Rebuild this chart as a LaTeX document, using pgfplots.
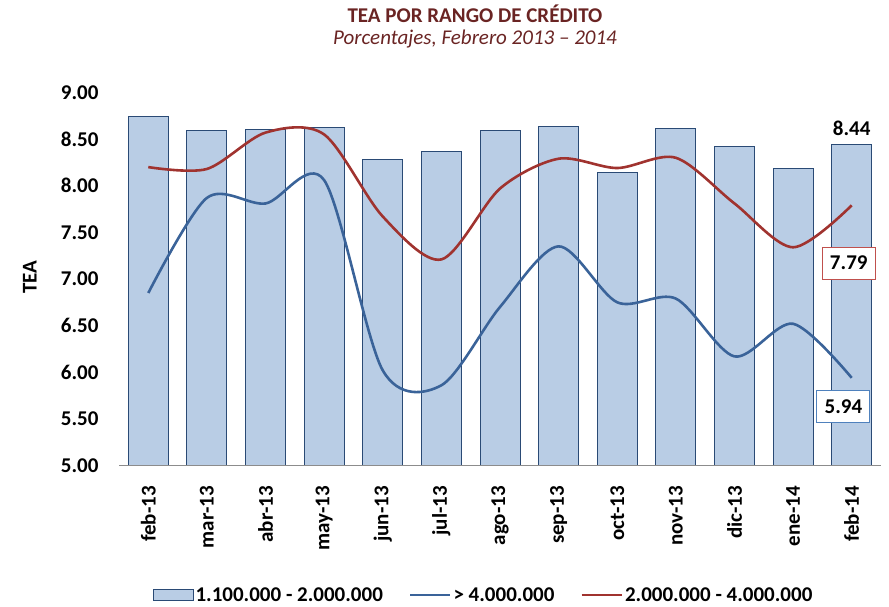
\documentclass[border=0pt]{standalone}
\usepackage{pgfplots}
\pgfplotsset{compat=1.18}
\usepackage{fontspec}
\setmainfont{Carlito}

\definecolor{titlered}{HTML}{6A2423}
\definecolor{barfill}{HTML}{B9CDE5}
\definecolor{bardraw}{HTML}{2A4A75}
\definecolor{blueline}{HTML}{3A6399}
\definecolor{redline}{HTML}{A0332F}
\definecolor{axisgray}{HTML}{8C8C8C}
\definecolor{boxred}{HTML}{C0504D}
\definecolor{boxblue}{HTML}{4F81BD}

\newcommand{\chfont}{\fontsize{21}{25}\selectfont}

\begin{document}
\begin{tikzpicture}[x=1pt,y=1pt]
\useasboundingbox (0,0) rectangle (889,606);

\node[font=\chfont\bfseries, text=titlered] at (475,592) {TEA POR RANGO DE CRÉDITO};
\node[font=\chfont\itshape, text=titlered] at (475,567) {Porcentajes, Febrero 2013 – 2014};

\begin{axis}[
    at={(119pt,140.5pt)}, anchor=south west,
    scale only axis,
    width=762pt, height=373pt,
    xmin=-0.5, xmax=12.5,
    ymin=5, ymax=9,
    ytick={5,5.5,...,9},
    xtick={0,...,12},
    xticklabels={feb-13,mar-13,abr-13,may-13,jun-13,jul-13,ago-13,sep-13,oct-13,nov-13,dic-13,ene-14,feb-14},
    axis line style={draw=none},
    tick style={draw=none},
    /pgf/number format/assume math mode=true,
    y tick label style={/pgf/number format/fixed, /pgf/number format/fixed zerofill, /pgf/number format/precision=2},
    yticklabel style={font=\chfont\bfseries, xshift=-17pt},
    xticklabel style={font=\chfont\bfseries, rotate=90, anchor=east, xshift=-17pt},
    ylabel={TEA},
    ylabel style={font=\chfont\bfseries, at={(axis description cs:-0.117,0.505)}, anchor=center},
    legend columns=3,
    legend style={draw=none, font=\chfont\bfseries, at={(axis description cs:0.044,-0.347)}, anchor=west,
        inner xsep=0pt, /tikz/every even column/.append style={column sep=24pt}},
    clip mode=individual,
]
\addplot[ybar, bar width=40pt, fill=barfill, draw=bardraw, line width=1pt,
    legend image code/.code={\draw[fill=barfill, draw=bardraw, line width=0.8pt] (0pt,-5.5pt) rectangle (40pt,5.5pt);}]
    coordinates {(0,8.74) (1,8.59) (2,8.60) (3,8.62) (4,8.28) (5,8.37) (6,8.59) (7,8.64) (8,8.14) (9,8.61) (10,8.42) (11,8.19) (12,8.44)};
\addlegendentry{1.100.000 - 2.000.000}
\addplot[blueline, line width=2.6pt, smooth, tension=0.5,
    legend image code/.code={\draw[blueline, line width=2.6pt] (0pt,0pt) -- (40pt,0pt);}]
    coordinates {(0,6.85) (1,7.87) (2,7.81) (3,8.06) (4,6.02) (5,5.86) (6,6.70) (7,7.35) (8,6.75) (9,6.79) (10,6.17) (11,6.52) (12,5.94)};
\addlegendentry{> 4.000.000}
\addplot[redline, line width=2.6pt, smooth, tension=0.5,
    legend image code/.code={\draw[redline, line width=2.6pt] (0pt,0pt) -- (40pt,0pt);}]
    coordinates {(0,8.20) (1,8.18) (2,8.57) (3,8.55) (4,7.67) (5,7.21) (6,7.97) (7,8.29) (8,8.19) (9,8.30) (10,7.81) (11,7.34) (12,7.79)};
\addlegendentry{2.000.000 - 4.000.000}

\draw[axisgray, line width=1.5pt] (rel axis cs:0,0) -- (rel axis cs:1,0);
\node[font=\chfont\bfseries, anchor=south] at (axis cs:12,8.44) [yshift=6pt] {8.44};
\node[font=\chfont\bfseries, draw=boxred, line width=1pt, fill=white, minimum width=53pt, minimum height=32pt] at (axis cs:11.95,7.17) {7.79};
\node[font=\chfont\bfseries, draw=boxblue, line width=1pt, fill=white, minimum width=53pt, minimum height=32pt] at (axis cs:11.86,5.63) {5.94};
\end{axis}
\end{tikzpicture}
\end{document}
